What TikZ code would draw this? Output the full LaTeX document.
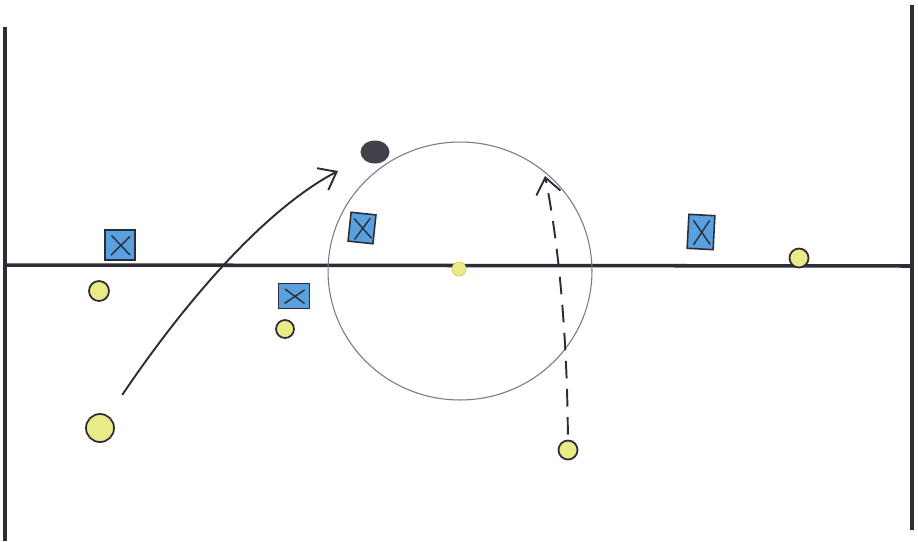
\documentclass[tikz,border=0pt]{standalone}
\usepackage{tikz}
\usetikzlibrary{arrows.meta,shapes.geometric}
\definecolor{pen}{RGB}{45,45,55}
\definecolor{shirtblue}{RGB}{88,160,222}
\definecolor{dotyellow}{RGB}{234,234,135}
\definecolor{ringgray}{RGB}{120,120,140}
\tikzset{
    xman/.style={draw=pen,line width=0.9pt,fill=shirtblue,inner sep=0pt,
        path picture={\draw [pen,line width=0.8pt]
            ([shift={(0.13cm,-0.11cm)}]path picture bounding box.north west) -- ([shift={(-0.1cm,0.1cm)}]path picture bounding box.south east)
            ([shift={(-0.1cm,-0.13cm)}]path picture bounding box.north east) -- ([shift={(0.12cm,0.1cm)}]path picture bounding box.south west);}},
    oman/.style={circle,draw=pen,line width=1pt,fill=dotyellow,inner sep=0pt},
    pass/.style={draw=pen,line width=1.1pt,-{Straight Barb[length=9pt,width=14pt]}}
}
\begin{document}
\begin{tikzpicture}[x=0.02cm,y=-0.02cm]
    \useasboundingbox [fill=white] (0,0) rectangle (918,541);
    % court lines
    \draw [pen,line width=2pt] (5,27) -- (5,541);
    \draw [pen,line width=2pt] (912,5) -- (912,530);
    \draw [pen,line width=2pt] (5,265) -- (912,266);
    \draw [ringgray,line width=0.6pt] (460,271) ellipse [x radius=2.64cm,y radius=2.58cm];
    % players
    \node [xman,minimum width=0.6cm,minimum height=0.6cm] (x1) at (120,245) {};
    \node [xman,minimum width=0.62cm,minimum height=0.5cm] (x2) at (294,296) {};
    \node [xman,minimum width=0.5cm,minimum height=0.58cm,rotate=-6] (x3) at (362,228) {};
    \node [xman,minimum width=0.52cm,minimum height=0.68cm,rotate=-3] (x4) at (701,232) {};
    \node [oman,minimum size=0.4cm] (o1) at (99,291) {};
    \node [oman,minimum size=0.36cm] (o2) at (285,329) {};
    \node [oman,minimum size=0.56cm] (o3) at (100,428) {};
    \node [oman,minimum size=0.38cm] (o4) at (568,450) {};
    \node [oman,minimum size=0.38cm] (o5) at (799,258) {};
    \node [circle,draw=yellow!60!gray,fill=dotyellow,inner sep=0pt,minimum size=0.28cm] (mid) at (459,269) {};
    \node [ellipse,fill=pen!90,inner sep=0pt,minimum width=0.58cm,minimum height=0.46cm] (ball) at (375,152) {};
    % runs
    \coordinate (c1) at (338,171);
    \coordinate (c2) at (545,176);
    \draw [pass,shorten <=0.5cm] (o3) .. controls (178,312) and (260,212) .. (c1);
    \draw [pass,dash pattern=on 10pt off 6pt,shorten <=0.1cm] (o4) .. controls (567,330) and (558,240) .. (c2);
\end{tikzpicture}
\end{document}
